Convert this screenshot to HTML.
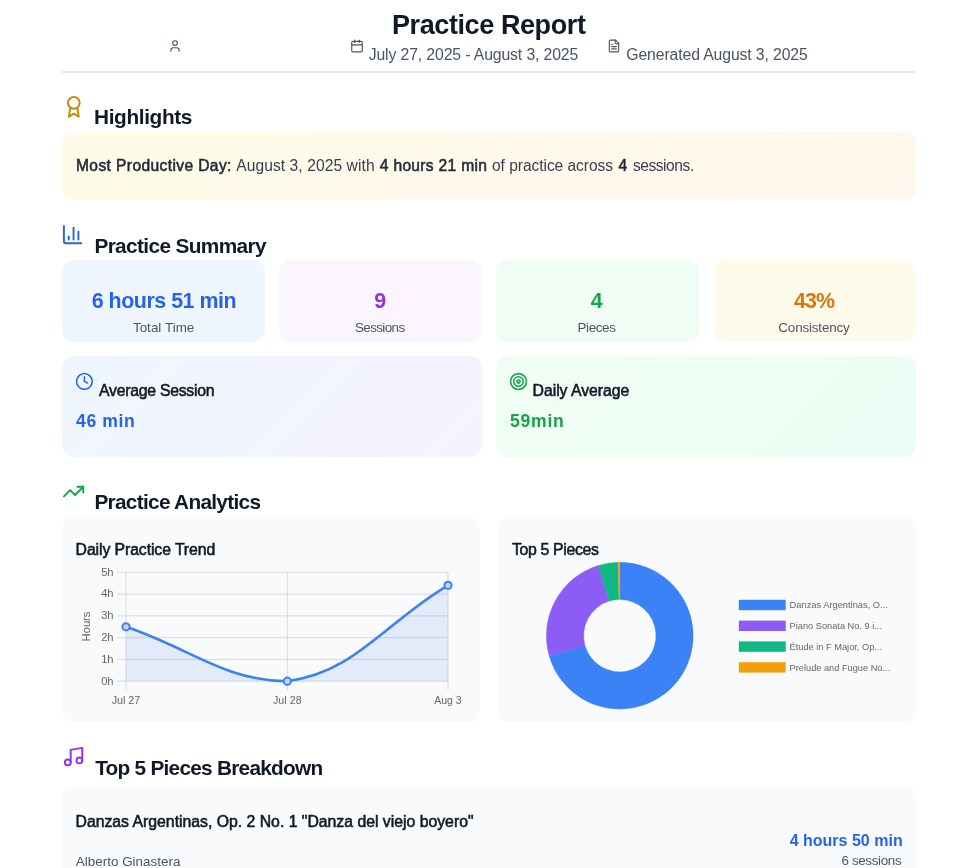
<!DOCTYPE html>
<html lang="en"><head><meta charset="utf-8"><title>Practice Report</title>
<style>
html,body{margin:0;padding:0;background:#fff}
body{width:980px;height:868px;position:relative;overflow:hidden;font-family:"Liberation Sans",sans-serif}
.t{position:absolute;white-space:nowrap;margin:0}
.b{position:absolute;border-radius:12px}
.ic{position:absolute;overflow:visible}
</style></head><body>
<div class="b" style="left:62px;top:71px;width:854px;height:2px;background:#e5e7eb;border-radius:0"></div>
<div class="b" style="left:62px;top:132px;width:854px;height:68px;background:linear-gradient(135deg,#fefce8,#fff7ed)"></div>
<div class="b" style="left:62.00px;top:260.3px;width:203.25px;height:82.1px;background:#eff6ff"></div>
<div class="b" style="left:278.85px;top:260.3px;width:203.25px;height:82.1px;background:#faf5ff"></div>
<div class="b" style="left:495.70px;top:260.3px;width:203.25px;height:82.1px;background:#f0fdf4"></div>
<div class="b" style="left:712.55px;top:260.3px;width:203.25px;height:82.1px;background:#fffbeb"></div>
<div class="b" style="left:62px;top:356.4px;width:419.8px;height:100.6px;background:linear-gradient(135deg,#eff6ff,#f5f3ff)"></div>
<div class="b" style="left:495.8px;top:356.4px;width:420.2px;height:100.6px;background:linear-gradient(135deg,#f0fdf4,#ecfdf5)"></div>
<div class="b" style="left:62px;top:517.1px;width:417.5px;height:204.8px;background:#f9fafb"></div>
<div class="b" style="left:498.1px;top:517.1px;width:417.9px;height:204.8px;background:#f9fafb"></div>
<div class="b" style="left:62px;top:787px;width:854px;height:120px;background:#f9fafb"></div>
<svg class="ic" style="left:168px;top:39px" width="14" height="14" viewBox="0 0 24 24" fill="none" stroke="#4b5563" stroke-width="2" stroke-linecap="round" stroke-linejoin="round"><path d="M19 21v-2a4 4 0 0 0-4-4H9a4 4 0 0 0-4 4v2"/><circle cx="12" cy="7" r="4"/></svg>
<svg class="ic" style="left:350px;top:39px" width="14" height="14" viewBox="0 0 24 24" fill="none" stroke="#4b5563" stroke-width="2" stroke-linecap="round" stroke-linejoin="round"><path d="M8 2v4"/><path d="M16 2v4"/><rect width="18" height="18" x="3" y="4" rx="2"/><path d="M3 10h18"/></svg>
<svg class="ic" style="left:607.3px;top:39px" width="14" height="14" viewBox="0 0 24 24" fill="none" stroke="#4b5563" stroke-width="2" stroke-linecap="round" stroke-linejoin="round"><path d="M15 2H6a2 2 0 0 0-2 2v16a2 2 0 0 0 2 2h12a2 2 0 0 0 2-2V7Z"/><path d="M14 2v4a2 2 0 0 0 2 2h4"/><path d="M10 9H8"/><path d="M16 13H8"/><path d="M16 17H8"/></svg>
<svg class="ic" style="left:61.75px;top:94.9px" width="23.6" height="23.6" viewBox="0 0 24 24" fill="none" stroke="#ca8a04" stroke-width="2" stroke-linecap="round" stroke-linejoin="round"><circle cx="12" cy="8" r="6"/><path d="M15.477 12.89 17 22l-5-3-5 3 1.523-9.11"/></svg>
<svg class="ic" style="left:61.2px;top:223.2px" width="23.2" height="23.2" viewBox="0 0 24 24" fill="none" stroke="#2563eb" stroke-width="2" stroke-linecap="round" stroke-linejoin="round"><path d="M3 3v16a2 2 0 0 0 2 2h16"/><path d="M18 17V9"/><path d="M13 17V5"/><path d="M8 17v-3"/></svg>
<svg class="ic" style="left:62.1px;top:480.3px" width="23.2" height="23.2" viewBox="0 0 24 24" fill="none" stroke="#16a34a" stroke-width="2" stroke-linecap="round" stroke-linejoin="round"><polyline points="22 7 13.5 15.5 8.5 10.5 2 17"/><polyline points="16 7 22 7 22 13"/></svg>
<svg class="ic" style="left:62.0px;top:745.35px" width="23.2" height="23.2" viewBox="0 0 24 24" fill="none" stroke="#9333ea" stroke-width="2" stroke-linecap="round" stroke-linejoin="round"><path d="M9 18V5l12-2v13"/><circle cx="6" cy="18" r="3"/><circle cx="18" cy="16" r="3"/></svg>
<svg class="ic" style="left:75.25px;top:371.9px" width="18.8" height="18.8" viewBox="0 0 24 24" fill="none" stroke="#2563eb" stroke-width="2" stroke-linecap="round" stroke-linejoin="round"><circle cx="12" cy="12" r="10"/><polyline points="12 6 12 12 16 14"/></svg>
<svg class="ic" style="left:509.0px;top:372.0px" width="19.0" height="19.0" viewBox="0 0 24 24" fill="none" stroke="#16a34a" stroke-width="2" stroke-linecap="round" stroke-linejoin="round"><circle cx="12" cy="12" r="10"/><circle cx="12" cy="12" r="6"/><circle cx="12" cy="12" r="2"/></svg>
<svg class="ic" style="left:0;top:0" width="980" height="868" viewBox="0 0 980 868" font-family="Liberation Sans, sans-serif" font-size="11.2" fill="#666">
<rect x="117" y="680.70" width="331.00" height="1" fill="#d9dadd"/>
<text x="113.6" y="684.60" text-anchor="end">0h</text>
<rect x="117" y="658.92" width="331.00" height="1" fill="#d9dadd"/>
<text x="113.6" y="662.82" text-anchor="end">1h</text>
<rect x="117" y="637.14" width="331.00" height="1" fill="#d9dadd"/>
<text x="113.6" y="641.04" text-anchor="end">2h</text>
<rect x="117" y="615.36" width="331.00" height="1" fill="#d9dadd"/>
<text x="113.6" y="619.26" text-anchor="end">3h</text>
<rect x="117" y="593.58" width="331.00" height="1" fill="#d9dadd"/>
<text x="113.6" y="597.48" text-anchor="end">4h</text>
<rect x="117" y="571.80" width="331.00" height="1" fill="#d9dadd"/>
<text x="113.6" y="575.70" text-anchor="end">5h</text>
<rect x="125.50" y="572.30" width="1" height="117.90" fill="#d9dadd"/>
<rect x="286.80" y="572.30" width="1" height="117.90" fill="#d9dadd"/>
<rect x="447.50" y="572.30" width="1" height="117.90" fill="#d9dadd"/>
<path d="M126.00,626.75 C190.52,648.53 225.94,681.20 287.30,681.20 C354.74,672.53 383.72,623.70 448.00,585.37 L448.00,681.20 L126.00,681.20 Z" fill="rgba(59,130,246,0.12)"/>
<path d="M126.00,626.75 C190.52,648.53 225.94,681.20 287.30,681.20 C354.74,672.53 383.72,623.70 448.00,585.37" fill="none" stroke="#3b82f6" stroke-width="2.6" stroke-linecap="round"/>
<circle cx="126.00" cy="626.75" r="3.6" fill="#c3d7fa" stroke="#3b82f6" stroke-width="2"/>
<circle cx="287.30" cy="681.20" r="3.6" fill="#c3d7fa" stroke="#3b82f6" stroke-width="2"/>
<circle cx="448.00" cy="585.37" r="3.6" fill="#c3d7fa" stroke="#3b82f6" stroke-width="2"/>
<text x="111.70" y="703.9" textLength="28.6" lengthAdjust="spacingAndGlyphs">Jul 27</text>
<text x="273.00" y="703.9" textLength="28.6" lengthAdjust="spacingAndGlyphs">Jul 28</text>
<text x="434.30" y="703.9" textLength="27.4" lengthAdjust="spacingAndGlyphs">Aug 3</text>
<text transform="translate(90.2,626.5) rotate(-90)" text-anchor="middle">Hours</text>
<path d="M619.80,562.30 A73.4,73.4 0 1 1 549.24,655.93 L585.00,645.68 A36.2,36.2 0 1 0 619.80,599.50 Z" fill="#3b82f6" stroke="#3b82f6" stroke-width="0.4"/>
<path d="M549.24,655.93 A73.4,73.4 0 0 1 598.34,565.51 L609.22,601.08 A36.2,36.2 0 0 0 585.00,645.68 Z" fill="#8b5cf6" stroke="#8b5cf6" stroke-width="0.4"/>
<path d="M598.34,565.51 A73.4,73.4 0 0 1 618.13,562.32 L618.98,599.51 A36.2,36.2 0 0 0 609.22,601.08 Z" fill="#10b981" stroke="#10b981" stroke-width="0.4"/>
<path d="M618.13,562.32 A73.4,73.4 0 0 1 619.80,562.30 L619.80,599.50 A36.2,36.2 0 0 0 618.98,599.51 Z" fill="#f59e0b" stroke="#f59e0b" stroke-width="0.4"/>
<rect x="738.8" y="599.80" width="46.9" height="10.4" fill="#3b82f6"/>
<text x="789.6" y="608.20" font-size="9.8" textLength="98.2" lengthAdjust="spacingAndGlyphs">Danzas Argentinas, O...</text>
<rect x="738.8" y="620.60" width="46.9" height="10.4" fill="#8b5cf6"/>
<text x="789.6" y="629.00" font-size="9.8" textLength="92.4" lengthAdjust="spacingAndGlyphs">Piano Sonata No. 9 i...</text>
<rect x="738.8" y="641.40" width="46.9" height="10.4" fill="#10b981"/>
<text x="789.6" y="649.80" font-size="9.8" textLength="92.4" lengthAdjust="spacingAndGlyphs">Étude in F Major, Op...</text>
<rect x="738.8" y="662.20" width="46.9" height="10.4" fill="#f59e0b"/>
<text x="789.6" y="670.60" font-size="9.8" textLength="100.6" lengthAdjust="spacingAndGlyphs">Prelude and Fugue No...</text>
</svg>
<div class="t" style="left:392.00px;top:8px;font-size:27.0px;line-height:34px;font-weight:700;color:#111827;letter-spacing:-0.406px">Practice Report</div>
<div class="t" style="left:368.70px;top:44px;font-size:15.8px;line-height:21px;font-weight:400;color:#4b5563;letter-spacing:-0.131px">July 27, 2025 - August 3, 2025</div>
<div class="t" style="left:626.30px;top:44px;font-size:15.8px;line-height:21px;font-weight:400;color:#4b5563;letter-spacing:-0.127px">Generated August 3, 2025</div>
<div class="t" style="left:94.00px;top:103px;font-size:20.8px;line-height:27px;font-weight:700;color:#111827;letter-spacing:-0.366px">Highlights</div>
<div class="t" style="left:76.00px;top:155px;font-size:15.6px;line-height:21px;font-weight:400;-webkit-text-stroke:0.55px;color:#1f2937;letter-spacing:0.381px">Most Productive Day:</div>
<div class="t" style="left:236.20px;top:155px;font-size:15.6px;line-height:21px;font-weight:400;color:#374151;letter-spacing:0.078px">August 3, 2025 with</div>
<div class="t" style="left:379.80px;top:155px;font-size:15.6px;line-height:21px;font-weight:400;-webkit-text-stroke:0.55px;color:#1f2937;letter-spacing:0.302px">4 hours 21 min</div>
<div class="t" style="left:492.00px;top:155px;font-size:15.6px;line-height:21px;font-weight:400;color:#374151;letter-spacing:-0.065px">of practice across</div>
<div class="t" style="left:618.60px;top:155px;font-size:15.6px;line-height:21px;font-weight:400;-webkit-text-stroke:0.55px;color:#1f2937;letter-spacing:0.000px">4</div>
<div class="t" style="left:632.90px;top:155px;font-size:15.6px;line-height:21px;font-weight:400;color:#374151;letter-spacing:-0.459px">sessions.</div>
<div class="t" style="left:94.40px;top:232px;font-size:20.8px;line-height:27px;font-weight:700;color:#111827;letter-spacing:-0.622px">Practice Summary</div>
<div class="t" style="left:91.70px;top:287px;font-size:21.4px;line-height:28px;font-weight:700;color:#2563eb;letter-spacing:-0.469px">6 hours 51 min</div>
<div class="t" style="left:132.90px;top:318px;font-size:13.4px;line-height:19px;font-weight:400;color:#4b5563;letter-spacing:0.043px">Total Time</div>
<div class="t" style="left:374.20px;top:287px;font-size:21.4px;line-height:28px;font-weight:700;color:#9333ea;letter-spacing:0.000px">9</div>
<div class="t" style="left:355.00px;top:318px;font-size:13.4px;line-height:19px;font-weight:400;color:#4b5563;letter-spacing:-0.606px">Sessions</div>
<div class="t" style="left:590.85px;top:287px;font-size:21.4px;line-height:28px;font-weight:700;color:#16a34a;letter-spacing:0.000px">4</div>
<div class="t" style="left:577.50px;top:318px;font-size:13.4px;line-height:19px;font-weight:400;color:#4b5563;letter-spacing:-0.359px">Pieces</div>
<div class="t" style="left:794.00px;top:287px;font-size:21.4px;line-height:28px;font-weight:700;color:#d97706;letter-spacing:-0.946px">43%</div>
<div class="t" style="left:778.30px;top:318px;font-size:13.4px;line-height:19px;font-weight:400;color:#4b5563;letter-spacing:-0.144px">Consistency</div>
<div class="t" style="left:99.10px;top:380px;font-size:15.8px;line-height:21px;font-weight:400;-webkit-text-stroke:0.55px;color:#111827;letter-spacing:-0.268px">Average Session</div>
<div class="t" style="left:76.10px;top:409px;font-size:17.6px;line-height:24px;font-weight:700;color:#2563eb;letter-spacing:0.602px">46 min</div>
<div class="t" style="left:532.60px;top:380px;font-size:15.8px;line-height:21px;font-weight:400;-webkit-text-stroke:0.55px;color:#111827;letter-spacing:-0.047px">Daily Average</div>
<div class="t" style="left:510.10px;top:409px;font-size:17.6px;line-height:24px;font-weight:700;color:#16a34a;letter-spacing:0.700px">59min</div>
<div class="t" style="left:94.40px;top:488px;font-size:20.8px;line-height:27px;font-weight:700;color:#111827;letter-spacing:-0.695px">Practice Analytics</div>
<div class="t" style="left:75.60px;top:539px;font-size:15.8px;line-height:21px;font-weight:400;-webkit-text-stroke:0.55px;color:#111827;letter-spacing:-0.092px">Daily Practice Trend</div>
<div class="t" style="left:512.00px;top:539px;font-size:15.8px;line-height:21px;font-weight:400;-webkit-text-stroke:0.55px;color:#111827;letter-spacing:-0.323px">Top 5 Pieces</div>
<div class="t" style="left:95.20px;top:754px;font-size:20.8px;line-height:27px;font-weight:700;color:#111827;letter-spacing:-0.742px">Top 5 Pieces Breakdown</div>
<div class="t" style="left:75.50px;top:811px;font-size:15.8px;line-height:21px;font-weight:400;-webkit-text-stroke:0.55px;color:#111827;letter-spacing:-0.008px">Danzas Argentinas, Op. 2 No. 1 &quot;Danza del viejo boyero&quot;</div>
<div class="t" style="left:75.80px;top:852px;font-size:13.4px;line-height:19px;font-weight:400;color:#4b5563;letter-spacing:0.028px">Alberto Ginastera</div>
<div class="t" style="left:789.70px;top:830px;font-size:16.0px;line-height:21px;font-weight:700;color:#2563eb;letter-spacing:0.004px">4 hours 50 min</div>
<div class="t" style="left:841.40px;top:851px;font-size:13.4px;line-height:19px;font-weight:400;color:#4b5563;letter-spacing:-0.341px">6 sessions</div>
</body></html>
